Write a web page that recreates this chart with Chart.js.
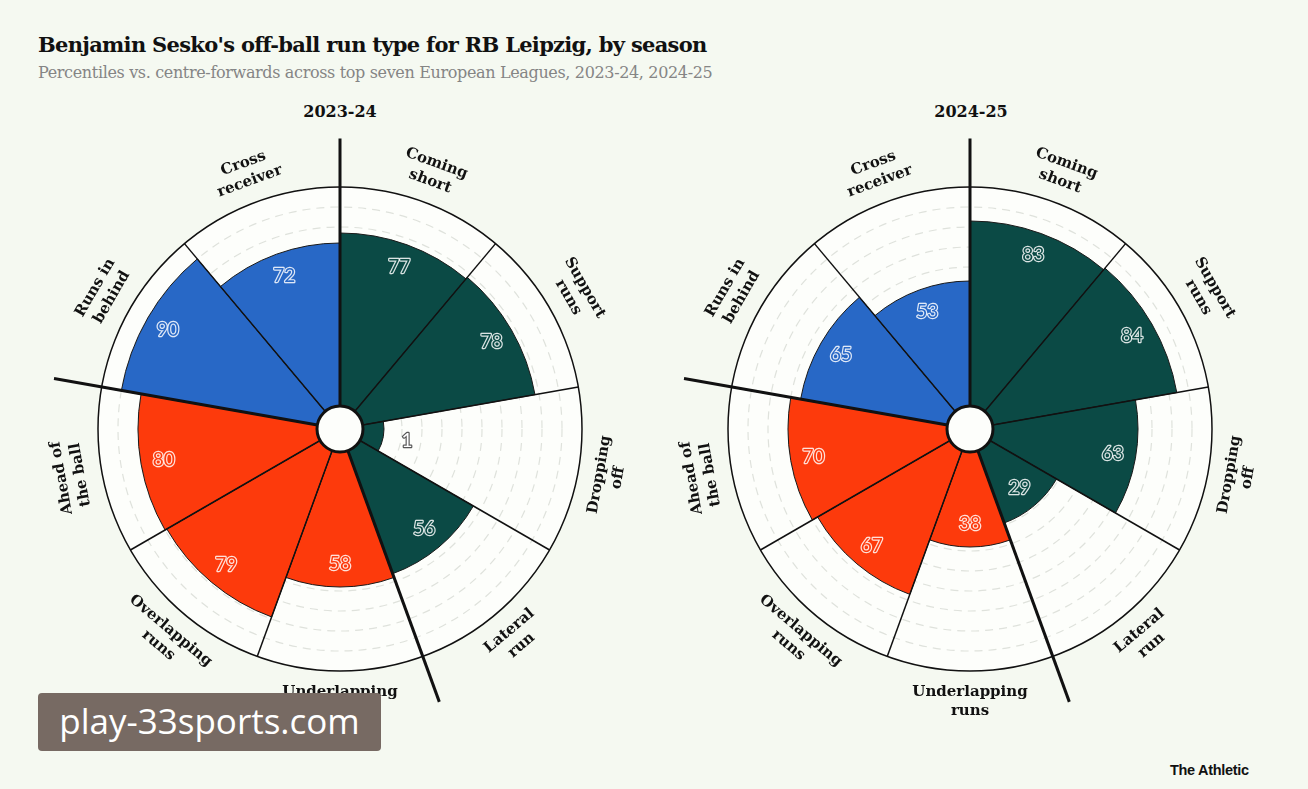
<!DOCTYPE html>
<html>
<head>
<meta charset="utf-8">
<script src="https://cdn.jsdelivr.net/npm/chart.js@4"></script>
<style>
  body { margin: 0; background: #f5f9f1; width: 1308px; height: 789px; position: relative; overflow: hidden; }
  .title { position: absolute; left: 38px; top: 32px; font: bold 21px 'DejaVu Serif', serif; color: #111; white-space: nowrap; letter-spacing: -0.7px; }
  .subtitle { position: absolute; left: 38px; top: 63px; font: 16px 'DejaVu Serif', serif; color: #858585; white-space: nowrap; letter-spacing: -0.35px; }
  .season { position: absolute; top: 102px; width: 200px; text-align: center; font: bold 16px 'DejaVu Serif', serif; color: #111; }
  canvas { position: absolute; }
  .credit { position: absolute; left: 1170px; top: 762px; font: bold 14.5px 'Liberation Sans', sans-serif; color: #111; letter-spacing: -0.3px; }
  .mark { position: absolute; left: 38px; top: 693px; width: 343px; height: 58px; background: #776a63; border-radius: 4px;
          color: #fff; font: 35px 'Open Sans', sans-serif; line-height: 56px; text-align: center; }
</style>
</head>
<body>
<div class="title">Benjamin Sesko's off-ball run type for RB Leipzig, by season</div>
<div class="subtitle">Percentiles vs. centre-forwards across top seven European Leagues, 2023-24, 2024-25</div>
<div class="season" style="left:240px">2023-24</div>
<div class="season" style="left:871px">2024-25</div>
<canvas id="chartA" width="620" height="620" style="left:30px;top:119px"></canvas>
<canvas id="chartB" width="620" height="620" style="left:660px;top:119px"></canvas>
<div class="credit">The Athletic</div>
<div class="mark">play-33sports.com</div>

<script>
// run types, clockwise from the top
const runTypes = [
  ['Coming', 'short'],
  ['Support', 'runs'],
  ['Dropping', 'off'],
  ['Lateral', 'run'],
  ['Underlapping', 'runs'],
  ['Overlapping', 'runs'],
  ['Ahead of', 'the ball'],
  ['Runs in', 'behind'],
  ['Cross', 'receiver'],
];
const season2324 = [77, 78, 1, 56, 58, 79, 80, 90, 72];
const season2425 = [83, 84, 63, 29, 38, 67, 70, 65, 53];

// slice colours: build-up (green), support (red), threat (blue)
const green = '#0b4a45', red = '#fd3a0c', blue = '#2868c6';
const sliceColors = [green, green, green, green, red, red, red, blue, blue];
const groupStarts = [0, 4, 7];

const pizzaDecor = {
  id: 'pizzaDecor',
  afterDatasetsDraw(chart) {
    const ctx = chart.ctx;
    const scale = chart.scales.r;
    const cx = scale.xCenter, cy = scale.yCenter, R = scale.drawingArea;
    const n = chart.data.labels.length;
    const step = 2 * Math.PI / n;
    const pt = (a, d) => [cx + d * Math.sin(a), cy - d * Math.cos(a)];

    ctx.save();
    ctx.lineCap = 'butt';
    ctx.strokeStyle = '#111';
    ctx.lineWidth = 1.5;
    for (let i = 0; i < n; i++) {
      const [x, y] = pt(i * step, R);
      ctx.beginPath();
      ctx.moveTo(cx, cy);
      ctx.lineTo(x, y);
      ctx.stroke();
    }
    ctx.beginPath();
    ctx.arc(cx, cy, R, 0, Math.PI * 2);
    ctx.stroke();

    // thick lines between groups
    ctx.lineWidth = 3;
    groupStarts.forEach(i => {
      const [x, y] = pt(i * step, R * 1.2);
      ctx.beginPath();
      ctx.moveTo(cx, cy);
      ctx.lineTo(x, y);
      ctx.stroke();
    });

    // centre hole
    ctx.beginPath();
    ctx.arc(cx, cy, 23, 0, Math.PI * 2);
    ctx.fillStyle = '#fdfefb';
    ctx.fill();
    ctx.lineWidth = 3;
    ctx.stroke();

    // values
    const vals = chart.data.datasets[0].data;
    ctx.font = '19px Lato, sans-serif';
    ctx.textAlign = 'center';
    ctx.textBaseline = 'middle';
    ctx.lineJoin = 'round';
    vals.forEach((v, i) => {
      const outer = scale.getDistanceFromCenterForValue(v);
      const inside = v >= 10;
      const [x, y] = pt((i + 0.5) * step, inside ? outer - 23 : outer + 24);
      ctx.lineWidth = 2.4;
      if (inside) {
        ctx.strokeStyle = 'rgba(255,255,255,0.85)';
        ctx.strokeText(String(v), x, y);
        ctx.fillStyle = sliceColors[i];
        ctx.fillText(String(v), x, y);
      } else {
        ctx.strokeStyle = '#555';
        ctx.strokeText(String(v), x, y);
        ctx.fillStyle = '#fff';
        ctx.fillText(String(v), x, y);
      }
    });

    // run type labels, tangential
    ctx.font = 'bold 15px "DejaVu Serif", serif';
    ctx.fillStyle = '#111';
    runTypes.forEach((lines, i) => {
      const a = (i + 0.5) * step;
      const deg = a * 180 / Math.PI;
      const flip = deg > 90 && deg < 250;
      const [x, y] = pt(a, R + 31);
      ctx.save();
      ctx.translate(x, y);
      ctx.rotate(flip ? a - Math.PI : a);
      ctx.fillText(lines[0], 0, -9.5);
      ctx.fillText(lines[1], 0, 9.5);
      ctx.restore();
    });
    ctx.restore();
  }
};

function pizza(id, values) {
  return new Chart(document.getElementById(id), {
    type: 'polarArea',
    data: {
      labels: runTypes.map(l => l.join(' ')),
      datasets: [{
        data: values,
        backgroundColor: sliceColors,
        borderColor: '#1a1a1a',
        borderWidth: 1,
      }],
    },
    options: {
      responsive: false,
      animation: false,
      events: [],
      layout: { padding: 68 },
      plugins: { legend: { display: false }, tooltip: { enabled: false } },
      scales: {
        r: {
          min: -21,
          max: 100,
          startAngle: 0,
          backgroundColor: '#fdfefb',
          ticks: { display: false, stepSize: 10 },
          grid: {
            circular: true,
            lineWidth: 1.2,
            color: c => (c.tick && c.tick.value > 0 && c.tick.value < 100 && c.tick.value % 10 === 0) ? '#dfe2dc' : 'rgba(0,0,0,0)',
          },
          border: { dash: [8, 6] },
          angleLines: { display: false },
          pointLabels: { display: false },
        },
      },
    },
    plugins: [pizzaDecor],
  });
}

pizza('chartA', season2324);
pizza('chartB', season2425);
</script>
</body>
</html>
